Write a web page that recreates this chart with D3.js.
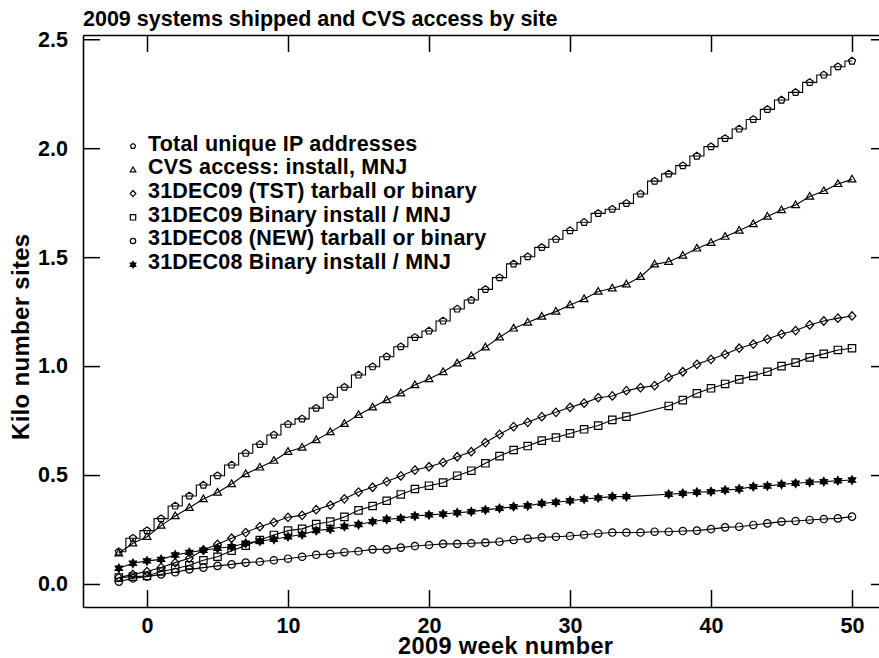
<!DOCTYPE html>
<html>
<head>
<meta charset="utf-8">
<script src="https://cdn.jsdelivr.net/npm/d3@7"></script>
<style>
  body { margin: 0; background: #fff; }
  svg { display: block; font-family: "Liberation Sans", Arial, sans-serif; font-weight: bold; }
</style>
</head>
<body>
<div id="chart"></div>
<script>
// week numbers (2009), -2 .. 50
var weeks = d3.range(-2, 51);

// series values in thousands of sites, one per week (null = no sample)
var totalIP = [0.148,0.210,0.245,0.300,0.358,0.404,0.454,0.497,0.546,0.600,
  0.641,0.684,0.733,0.758,0.807,0.857,0.903,0.959,0.997,1.043,
  1.089,1.132,1.161,1.207,1.262,1.303,1.352,1.406,1.469,1.502,
  1.545,1.582,1.622,1.660,1.701,1.720,1.747,1.790,1.849,1.882,
  1.920,1.964,2.007,2.045,2.088,2.132,2.178,2.221,2.256,2.302,
  2.336,2.374,2.400];
var cvsAccess = [0.141,0.187,0.217,0.268,0.312,0.350,0.390,0.420,0.459,0.505,
  0.535,0.566,0.607,0.626,0.661,0.697,0.735,0.776,0.811,0.844,
  0.875,0.913,0.941,0.973,1.013,1.046,1.086,1.132,1.173,1.200,
  1.227,1.250,1.280,1.308,1.342,1.357,1.375,1.410,1.467,1.479,
  1.507,1.540,1.566,1.594,1.622,1.652,1.686,1.716,1.739,1.778,
  1.804,1.836,1.857];
var tst09 = [0.030,0.044,0.057,0.076,0.098,0.118,0.156,0.182,0.210,0.236,
  0.263,0.283,0.306,0.315,0.341,0.362,0.391,0.422,0.444,0.470,
  0.496,0.523,0.538,0.558,0.584,0.607,0.649,0.687,0.722,0.742,
  0.768,0.788,0.811,0.830,0.855,0.863,0.887,0.901,0.910,0.948,
  0.974,1.008,1.031,1.054,1.082,1.101,1.124,1.147,1.163,1.189,
  1.207,1.220,1.230];
var bin09 = [0.029,0.034,0.037,0.057,0.070,0.086,0.109,0.125,0.153,0.176,
  0.202,0.225,0.245,0.253,0.275,0.286,0.308,0.338,0.358,0.382,
  0.411,0.436,0.451,0.465,0.497,0.520,0.554,0.587,0.615,0.633,
  0.658,0.672,0.691,0.710,0.727,0.753,0.768,null,null,0.817,
  0.844,0.875,0.898,0.918,0.939,0.955,0.974,1.000,1.016,1.040,
  1.056,1.074,1.082];
var new08 = [0.011,0.026,0.034,0.044,0.054,0.067,0.075,0.083,0.090,0.098,
  0.102,0.109,0.116,0.125,0.134,0.138,0.146,0.150,0.159,0.159,
  0.167,0.174,0.179,0.184,0.184,0.187,0.190,0.194,0.202,0.208,
  0.214,0.217,0.220,0.226,0.232,0.236,0.236,0.236,0.240,0.240,
  0.243,0.245,0.252,0.260,0.263,0.271,0.278,0.286,0.289,0.294,
  0.298,0.301,0.309];
var bin08 = [0.072,0.095,0.106,0.113,0.133,0.145,0.155,0.164,0.171,0.187,
  0.197,0.205,0.217,0.227,0.245,0.252,0.264,0.273,0.286,0.297,
  0.301,0.312,0.317,0.321,0.327,0.332,0.340,0.347,0.355,0.359,
  0.370,0.375,0.382,0.390,0.395,0.401,0.401,null,null,0.412,
  0.416,0.421,0.424,0.431,0.436,0.447,0.450,0.457,0.462,0.467,
  0.470,0.474,0.477];

var seriesNames = ["Total unique IP addresses", "CVS access: install, MNJ",
  "31DEC09 (TST) tarball or binary", "31DEC09 Binary install / MNJ",
  "31DEC08 (NEW) tarball or binary", "31DEC08 Binary install / MNJ"];
var seriesValues = [totalIP, cvsAccess, tst09, bin09, new08, bin08];
var seriesShapes = ["pentagon", "triangle", "diamond", "square", "circle", "star"];

var xTicks = [0, 10, 20, 30, 40, 50];
var yTicks = [0, 0.5, 1.0, 1.5, 2.0, 2.5];

// frame edges (right edge sits just past the window, as in the original)
var W = 879, H = 658;
var frameL = 83, frameR = 888, frameT = 35, frameB = 607;

var svg = d3.select("#chart").append("svg")
    .attr("width", W)
    .attr("height", H);

// scales: x(0)=147, x(50)=852 ; y(0)=584, y(2.5)=39.3
var x = d3.scaleLinear().domain([-4.539, 52.553]).range([frameL, frameR]);
var y = d3.scaleLinear().domain([-0.1056, 2.5195]).range([frameB, frameT]);

// marker shapes drawn around (0,0)
function marker(shape, r) {
  var p = d3.path(), i, a;
  if (shape == "circle") {
    p.arc(0, 0, r, 0, 2 * Math.PI);
  } else if (shape == "square") {
    p.rect(-r, -r, 2 * r, 2 * r);
  } else if (shape == "diamond") {
    p.moveTo(0, -r * 1.15); p.lineTo(r * 1.05, 0); p.lineTo(0, r * 1.15); p.lineTo(-r * 1.05, 0); p.closePath();
  } else if (shape == "triangle") {
    p.moveTo(0, -r * 1.1); p.lineTo(r * 1.05, r * 0.7); p.lineTo(-r * 1.05, r * 0.7); p.closePath();
  } else if (shape == "pentagon") {
    for (i = 0; i < 5; i++) {
      a = -Math.PI / 2 + i * 2 * Math.PI / 5;
      if (i == 0) p.moveTo(r * Math.cos(a), r * Math.sin(a));
      else p.lineTo(r * Math.cos(a), r * Math.sin(a));
    }
    p.closePath();
  } else if (shape == "star") {
    // six pointed star: two triangles
    for (var k = 0; k < 2; k++) {
      for (i = 0; i < 3; i++) {
        a = -Math.PI / 2 + k * Math.PI / 3 + i * 2 * Math.PI / 3;
        if (i == 0) p.moveTo(r * Math.cos(a), r * Math.sin(a));
        else p.lineTo(r * Math.cos(a), r * Math.sin(a));
      }
      p.closePath();
    }
  }
  return p.toString();
}

// frame + ticks from the four axes
svg.append("g").attr("transform", "translate(0," + frameB + ")")
  .call(d3.axisBottom(x).tickValues(xTicks).tickSizeInner(-17).tickSizeOuter(0).tickPadding(11).tickFormat(d3.format("d")));
svg.append("g").attr("transform", "translate(0," + frameT + ")")
  .call(d3.axisTop(x).tickValues(xTicks).tickSizeInner(-17).tickSizeOuter(0).tickFormat(""));
svg.append("g").attr("transform", "translate(" + frameL + ",0)")
  .call(d3.axisLeft(y).tickValues(yTicks).tickSizeInner(-17).tickSizeOuter(0).tickPadding(15).tickFormat(d3.format(".1f")));
svg.append("g").attr("transform", "translate(" + frameR + ",0)")
  .call(d3.axisRight(y).tickValues(yTicks).tickSizeInner(-17).tickSizeOuter(0).tickFormat(""));

svg.selectAll(".domain").attr("stroke", "#000").attr("stroke-width", 1.6);
svg.selectAll(".tick line").attr("stroke", "#000").attr("stroke-width", 1.5);
svg.selectAll(".tick text")
    .attr("fill", "#000")
    .style("font-family", "Liberation Sans, Arial, sans-serif")
    .style("font-weight", "bold")
    .style("font-size", "21.5px");

// title
svg.append("text")
    .attr("x", frameL)
    .attr("y", 26)
    .style("font-size", "21.5px")
    .text("2009 systems shipped and CVS access by site");

// axis titles
svg.append("text")
    .attr("x", 398)
    .attr("y", 654)
    .style("font-size", "23.5px")
    .style("letter-spacing", "0.4px")
    .text("2009 week number");

svg.append("text")
    .attr("transform", "translate(29,440) rotate(-90)")
    .style("font-size", "24px")
    .style("letter-spacing", "0.3px")
    .text("Kilo number sites");

// series lines and markers
seriesValues.forEach(function(vals, s) {
  var pts = weeks.map(function(w, i) { return {w: w, v: vals[i]}; })
    .filter(function(d) { return d.v != null; });

  var line = d3.line()
    .x(function(d) { return x(d.w); })
    .y(function(d) { return y(d.v); })
    .curve(s == 0 ? d3.curveStep : d3.curveLinear);

  svg.append("path")
      .datum(pts)
      .attr("d", line)
      .attr("fill", "none")
      .attr("stroke", "#000")
      .attr("stroke-width", 1.1);

  var shape = seriesShapes[s];
  svg.append("g").selectAll("path")
    .data(pts)
    .enter().append("path")
      .attr("transform", function(d) { return "translate(" + x(d.w) + "," + y(d.v) + ")"; })
      .attr("d", marker(shape, shape == "star" ? 4.2 : 3.7))
      .attr("fill", shape == "star" ? "#000" : "none")
      .attr("stroke", "#000")
      .attr("stroke-width", 1.2);
});

// legend
var legend = svg.append("g").attr("transform", "translate(133,150.7)");
seriesNames.forEach(function(name, i) {
  var shape = seriesShapes[i];
  legend.append("path")
      .attr("transform", "translate(0," + (i * 23.7 - 4.5) + ")")
      .attr("d", marker(shape, shape == "star" ? 3.2 : 2.7))
      .attr("fill", shape == "star" ? "#000" : "none")
      .attr("stroke", "#000")
      .attr("stroke-width", 1.2);
  legend.append("text")
      .attr("x", 15)
      .attr("y", i * 23.7)
      .style("font-size", "21.5px")
      .style("letter-spacing", "0.2px")
      .text(name);
});
</script>
</body>
</html>
